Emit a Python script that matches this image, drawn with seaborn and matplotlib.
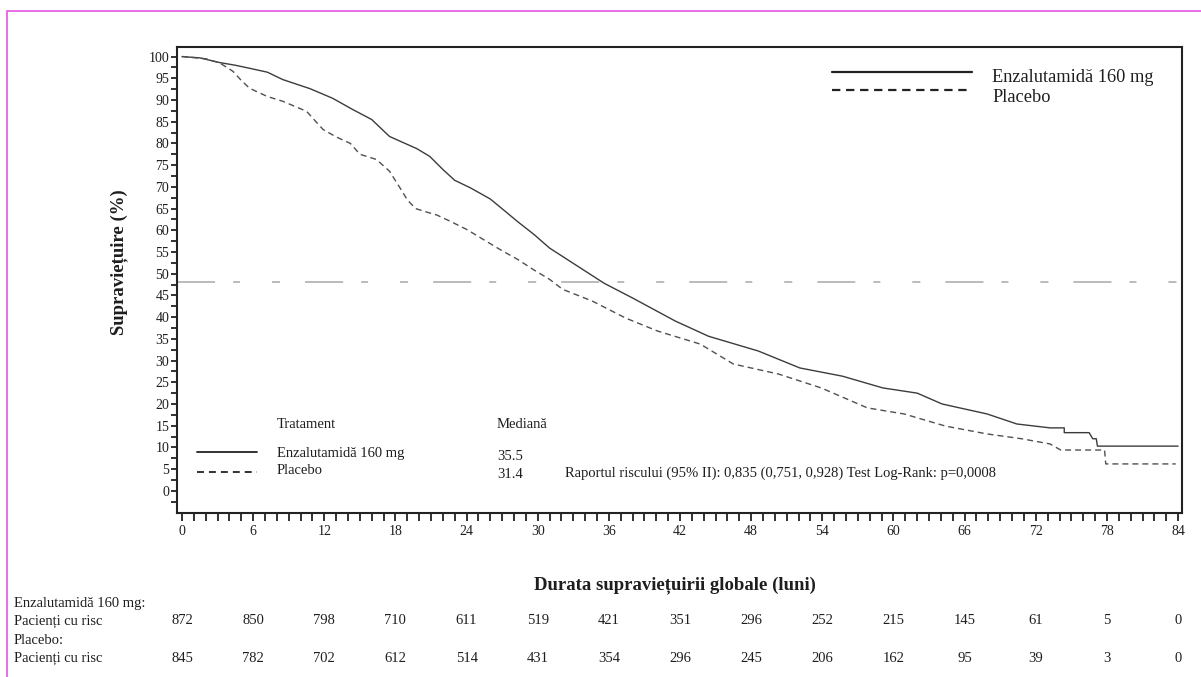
# Kaplan-Meier overall survival plot - enzalutamide vs placebo

import pandas as pd
import numpy as np

import matplotlib
matplotlib.use("Agg")
import matplotlib.pyplot as plt
import matplotlib.transforms as mtransforms
from matplotlib.lines import Line2D
from matplotlib.patches import Rectangle
from matplotlib.ticker import FixedLocator, MultipleLocator
import seaborn as sns

sns.set_style("ticks")
plt.rcParams['font.family'] = ['Liberation Serif', 'DejaVu Serif']
plt.rcParams['lines.scale_dashes'] = False

# Data
arm_names = ['Enzalutamidă 160 mg', 'Placebo']

enz_months = [0, 1.5, 3.2, 4.5, 5.7, 7.2, 8.5, 10.8, 12.7, 14.4, 16.0, 17.5, 18.4,
              19.8, 20.9, 22.0, 23.0, 24.3, 26.0, 27.2, 28.3, 29.7, 31.0, 33.1,
              35.6, 38.0, 41.6, 44.4, 48.6, 52.1, 55.7, 59.1, 62.0, 64.1, 67.9,
              70.4, 73.2, 74.4, 74.4, 76.5, 76.8, 77.1, 77.2, 84.0]
enz_surv = [100, 99.7, 98.6, 98.0, 97.3, 96.4, 94.7, 92.6, 90.4, 87.8, 85.5, 81.6, 80.5,
            78.8, 77.0, 74.0, 71.5, 69.8, 67.2, 64.5, 62.0, 59.0, 55.9, 52.2,
            47.8, 44.4, 39.1, 35.6, 32.2, 28.3, 26.4, 23.7, 22.5, 20.0, 17.7,
            15.4, 14.5, 14.5, 13.4, 13.4, 12.0, 12.0, 10.3, 10.3]

pla_months = [0, 2.0, 3.2, 4.3, 5.0, 5.7, 7.2, 8.5, 10.5, 11.9, 13.0, 14.2, 15.0,
              16.4, 17.5, 18.4, 19.0, 19.7, 20.5, 21.5, 22.6, 24.0, 25.4, 26.8,
              28.3, 29.6, 31.0, 32.1, 34.6, 37.4, 40.1, 43.7, 46.5, 50.3, 53.9,
              57.8, 60.9, 64.4, 67.9, 70.8, 73.2, 74.1, 77.8, 77.9, 83.8]
pla_surv = [100, 99.5, 98.5, 96.6, 94.5, 92.7, 90.8, 89.7, 87.4, 83.2, 81.5, 80.0, 77.5,
            76.3, 73.6, 69.7, 67.0, 65.0, 64.3, 63.5, 62.1, 60.2, 57.9, 55.6,
            53.3, 51.0, 48.7, 46.4, 43.7, 39.8, 36.8, 33.8, 29.2, 26.9, 23.7,
            19.1, 17.7, 14.9, 13.1, 12.0, 10.8, 9.4, 9.4, 6.2, 6.2]

median_level = 48.0
median_values = ['35.5', '31.4']
hr_text = 'Raportul riscului (95% II): 0,835 (0,751, 0,928) Test Log-Rank: p=0,0008'

risk_months = [0, 6, 12, 18, 24, 30, 36, 42, 48, 54, 60, 66, 72, 78, 84]
enz_at_risk = [872, 850, 798, 710, 611, 519, 421, 351, 296, 252, 215, 145, 61, 5, 0]
pla_at_risk = [845, 782, 702, 612, 514, 431, 354, 296, 245, 206, 162, 95, 39, 3, 0]

df = pd.concat([
    pd.DataFrame({'luni': enz_months, 'supr': enz_surv, 'brat': arm_names[0]}),
    pd.DataFrame({'luni': pla_months, 'supr': pla_surv, 'brat': arm_names[1]}),
], ignore_index=True)

# Layout (pixels of the 1201x677 canvas)
W, H = 1201, 677
def fx(px): return px / W
def fy(py): return 1 - py / H

line_col = '#3c3c3c'
dash_col = '#505050'
txt_col = '#1e1e1e'
tick_fs = 10
small_fs = 10.5
label_fs = 13.5

fig = plt.figure(figsize=(W / 100, H / 100), dpi=100)
ax = fig.add_axes([fx(177), fy(513), fx(1182) - fx(177), fy(47) - fy(513)])

sns.lineplot(data=df, x='luni', y='supr', hue='brat', style='brat',
             palette={arm_names[0]: line_col, arm_names[1]: dash_col},
             dashes={arm_names[0]: '', arm_names[1]: (4.3, 2.9)},
             estimator=None, sort=False, legend=False, linewidth=1.0, ax=ax)

ax.axhline(median_level, color='#a8a8a8', linewidth=1.1,
           dashes=(27.4, 13, 5, 23, 5.8, 18))

ax.set_xlim(-0.42, 84.33)
ax.set_ylim(-5.1, 102.2)
ax.set_xlabel('')
ax.set_ylabel('')

ax.xaxis.set_major_locator(MultipleLocator(6))
ax.xaxis.set_minor_locator(MultipleLocator(1))
ax.yaxis.set_major_locator(FixedLocator(np.arange(0, 101, 5)))
ax.yaxis.set_minor_locator(FixedLocator(np.arange(-5, 100, 5) + 2.5))
ax.tick_params(axis='x', which='both', direction='out', length=5.8, width=1.3,
               color='#222222', labelsize=tick_fs, pad=2.5, labelcolor=txt_col)
ax.tick_params(axis='y', which='both', direction='out', length=4.5, width=1.3,
               color='#222222', labelsize=tick_fs, pad=1, labelcolor=txt_col)
for side in ['left', 'bottom', 'top', 'right']:
    ax.spines[side].set_linewidth(1.5)
    ax.spines[side].set_color('#222222')

# Axis titles
fig.text(fx(119), fy(262), 'Supraviețuire (%)', rotation=90, ha='center', va='center',
         fontsize=label_fs, fontweight='bold', color=txt_col)
fig.text(fx(675), fy(585), 'Durata supraviețuirii globale (luni)', ha='center', va='center',
         fontsize=label_fs, fontweight='bold', color=txt_col)

# Top-right legend
fig.add_artist(Line2D([fx(832), fx(972)], [fy(72), fy(72)], color='#222222', lw=1.6))
fig.add_artist(Line2D([fx(832), fx(972)], [fy(90), fy(90)], color='#222222', lw=1.6,
                      dashes=(6.0, 4.1)))
fig.text(fx(992), fy(77), arm_names[0], ha='left', va='center', fontsize=13.2, color=txt_col)
fig.text(fx(992), fy(97), arm_names[1], ha='left', va='center', fontsize=13.2, color=txt_col)

# Inner summary table
fig.text(fx(277), fy(425), 'Tratament', ha='left', va='center', fontsize=small_fs, color=txt_col)
fig.text(fx(497), fy(425), 'Mediană', ha='left', va='center', fontsize=small_fs, color=txt_col)
fig.add_artist(Line2D([fx(197), fx(257)], [fy(452), fy(452)], color='#222222', lw=1.3))
fig.add_artist(Line2D([fx(197), fx(257)], [fy(472), fy(472)], color='#222222', lw=1.3,
                      dashes=(5, 3.6)))
fig.text(fx(277), fy(453), arm_names[0], ha='left', va='center', fontsize=small_fs, color=txt_col)
fig.text(fx(277), fy(471), arm_names[1], ha='left', va='center', fontsize=small_fs, color=txt_col)
fig.text(fx(497), fy(456), median_values[0], ha='left', va='center', fontsize=small_fs, color=txt_col)
fig.text(fx(497), fy(474), median_values[1], ha='left', va='center', fontsize=small_fs, color=txt_col)
fig.text(fx(565), fy(473), hr_text, ha='left', va='center', fontsize=small_fs, color=txt_col)

# Numbers at risk, aligned with the month ticks
risk_tr = mtransforms.blended_transform_factory(ax.transData, fig.transFigure)
fig.text(fx(14), fy(603), arm_names[0] + ':', ha='left', va='center', fontsize=small_fs, color=txt_col)
fig.text(fx(14), fy(621), 'Pacienți cu risc', ha='left', va='center', fontsize=small_fs, color=txt_col)
fig.text(fx(14), fy(641), arm_names[1] + ':', ha='left', va='center', fontsize=small_fs, color=txt_col)
fig.text(fx(14), fy(658), 'Pacienți cu risc', ha='left', va='center', fontsize=small_fs, color=txt_col)
for m, n_enz, n_pla in zip(risk_months, enz_at_risk, pla_at_risk):
    fig.text(m, fy(621), str(n_enz), transform=risk_tr, ha='center', va='center',
             fontsize=small_fs, color=txt_col)
    fig.text(m, fy(658), str(n_pla), transform=risk_tr, ha='center', va='center',
             fontsize=small_fs, color=txt_col)

# Magenta page border
fig.add_artist(Rectangle((fx(7), -0.05), 1.2, fy(11) + 0.05, transform=fig.transFigure,
                         fill=False, edgecolor='#e463e4', linewidth=1.3))

fig.savefig('out.png', dpi=100)
